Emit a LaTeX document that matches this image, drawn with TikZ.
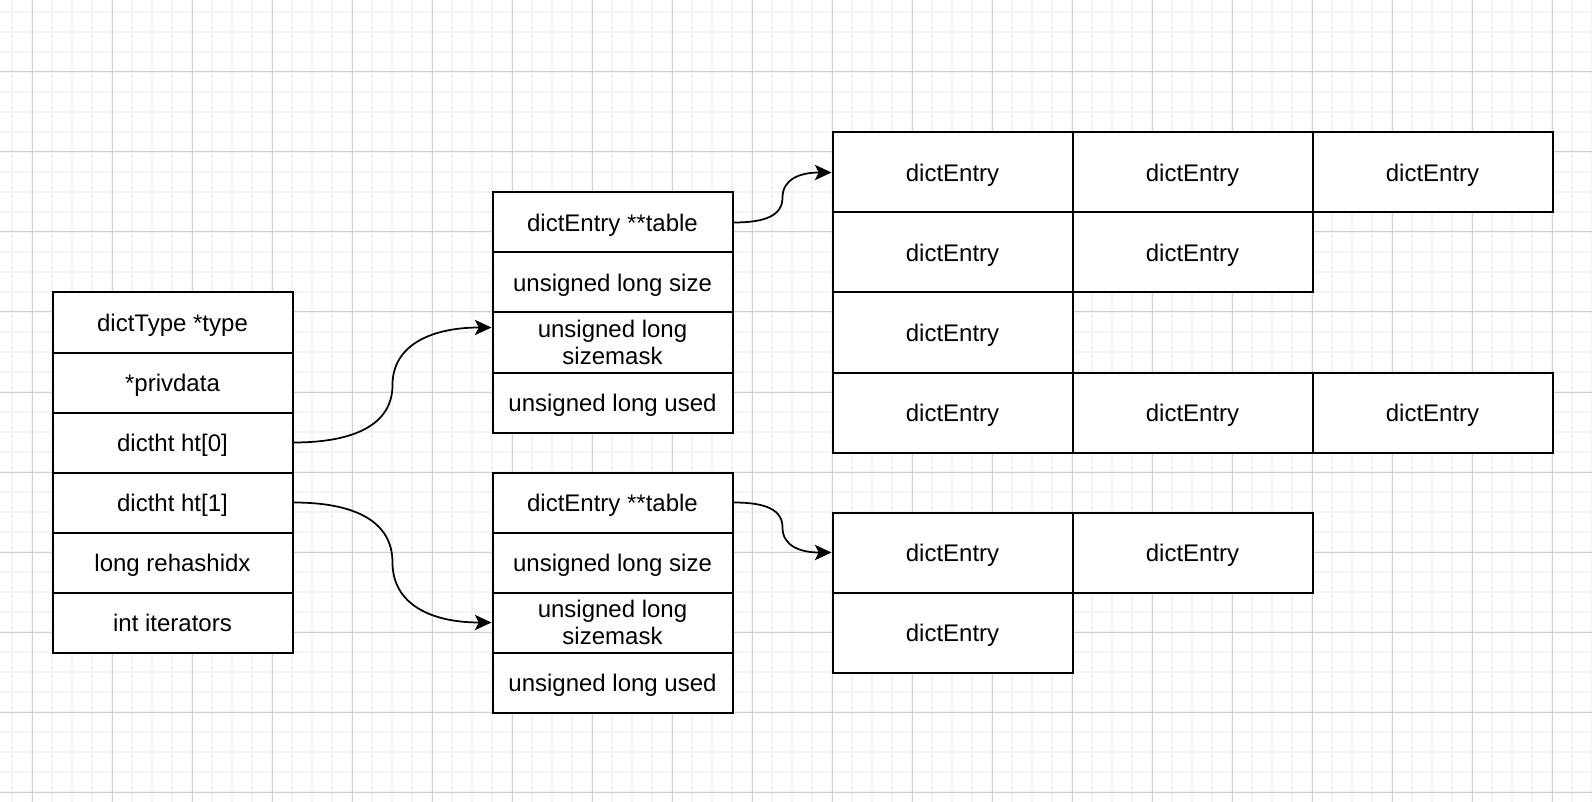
\documentclass[tikz,border=0pt]{standalone}
\usepackage{fontspec}
\setmainfont{Liberation Sans}
\usetikzlibrary{arrows.meta,calc}
\definecolor{gridminor}{RGB}{243,243,243}
\definecolor{gridmajor}{RGB}{208,208,208}
\begin{document}
\begin{tikzpicture}[x=0.75pt,y=-0.75pt,
  cell/.style={draw=black,fill=white,line width=1.5pt,minimum width=180pt,minimum height=45pt,inner sep=0pt,align=center,text depth=0pt,font=\fontsize{18}{20.5}\selectfont},
  bigcell/.style={cell,minimum height=60pt},
  link/.style={line width=1.3pt,-{Stealth[length=12.5pt,width=11.5pt,inset=3pt]}}]
\useasboundingbox (0,0) rectangle (1592,802);
\fill[white] (0,0) rectangle (1592,802);
% grid
\foreach \x in {12,32,...,1592} \draw[gridminor,line width=1pt] (\x,0) -- (\x,802);
\foreach \y in {12,32,...,802} \draw[gridminor,line width=1pt] (0,\y) -- (1592,\y);
\foreach \x in {32,112,...,1592} \draw[gridmajor,line width=0.75pt] (\x,0) -- (\x,802);
\foreach \y in {72,152,...,802} \draw[gridmajor,line width=0.75pt] (0,\y) -- (1592,\y);
% dict
\node[cell] (l1) at (172.5,322.5) {dictType *type};
\node[cell] (l2) at (172.5,382.5) {*privdata};
\node[cell] (l3) at (172.5,442.5) {dictht ht[0]};
\node[cell] (l4) at (172.5,502.5) {dictht ht[1]};
\node[cell] (l5) at (172.5,562.5) {long rehashidx};
\node[cell] (l6) at (172.5,622.5) {int iterators};
% ht[0]
\node[cell] (a1) at (612.5,222.5) {dictEntry **table};
\node[cell] (a2) at (612.5,282.5) {unsigned long size};
\node[cell] (a3) at (612.5,342.5) {unsigned long\\sizemask};
\node[cell] (a4) at (612.5,402.5) {unsigned long used};
% ht[1]
\node[cell] (b1) at (612.5,502.5) {dictEntry **table};
\node[cell] (b2) at (612.5,562.5) {unsigned long size};
\node[cell] (b3) at (612.5,622.5) {unsigned long\\sizemask};
\node[cell] (b4) at (612.5,682.5) {unsigned long used};
% table 0
\node[bigcell] (t11) at (952.5,172.5) {dictEntry};
\node[bigcell] (t12) at (1192.5,172.5) {dictEntry};
\node[bigcell] (t13) at (1432.5,172.5) {dictEntry};
\node[bigcell] (t21) at (952.5,252.5) {dictEntry};
\node[bigcell] (t22) at (1192.5,252.5) {dictEntry};
\node[bigcell] (t31) at (952.5,332.5) {dictEntry};
\node[bigcell] (t41) at (952.5,412.5) {dictEntry};
\node[bigcell] (t42) at (1192.5,412.5) {dictEntry};
\node[bigcell] (t43) at (1432.5,412.5) {dictEntry};
% table 1
\node[bigcell] (u11) at (952.5,552.5) {dictEntry};
\node[bigcell] (u12) at (1192.5,552.5) {dictEntry};
\node[bigcell] (u21) at (952.5,632.5) {dictEntry};
% connectors
\coordinate (e1) at ([yshift=11.25pt]a3.west);
\coordinate (m1) at ($(l3.east)!0.5!(e1)$);
\draw[link] (l3.east) .. controls +(60,0) and +(0,40) .. (m1)
  .. controls +(0,-40) and +(-60,0) .. (e1);
\coordinate (m2) at ($(l4.east)!0.5!(b3.west)$);
\draw[link] (l4.east) .. controls +(60,0) and +(0,-42) .. (m2)
  .. controls +(0,42) and +(-60,0) .. (b3.west);
\coordinate (m3) at ($(a1.east)!0.5!(t11.west)$);
\draw[link] (a1.east) .. controls +(32,0) and +(0,18) .. (m3)
  .. controls +(0,-18) and +(-32,0) .. (t11.west);
\coordinate (m4) at ($(b1.east)!0.5!(u11.west)$);
\draw[link] (b1.east) .. controls +(32,0) and +(0,-18) .. (m4)
  .. controls +(0,18) and +(-32,0) .. (u11.west);
\end{tikzpicture}
\end{document}
